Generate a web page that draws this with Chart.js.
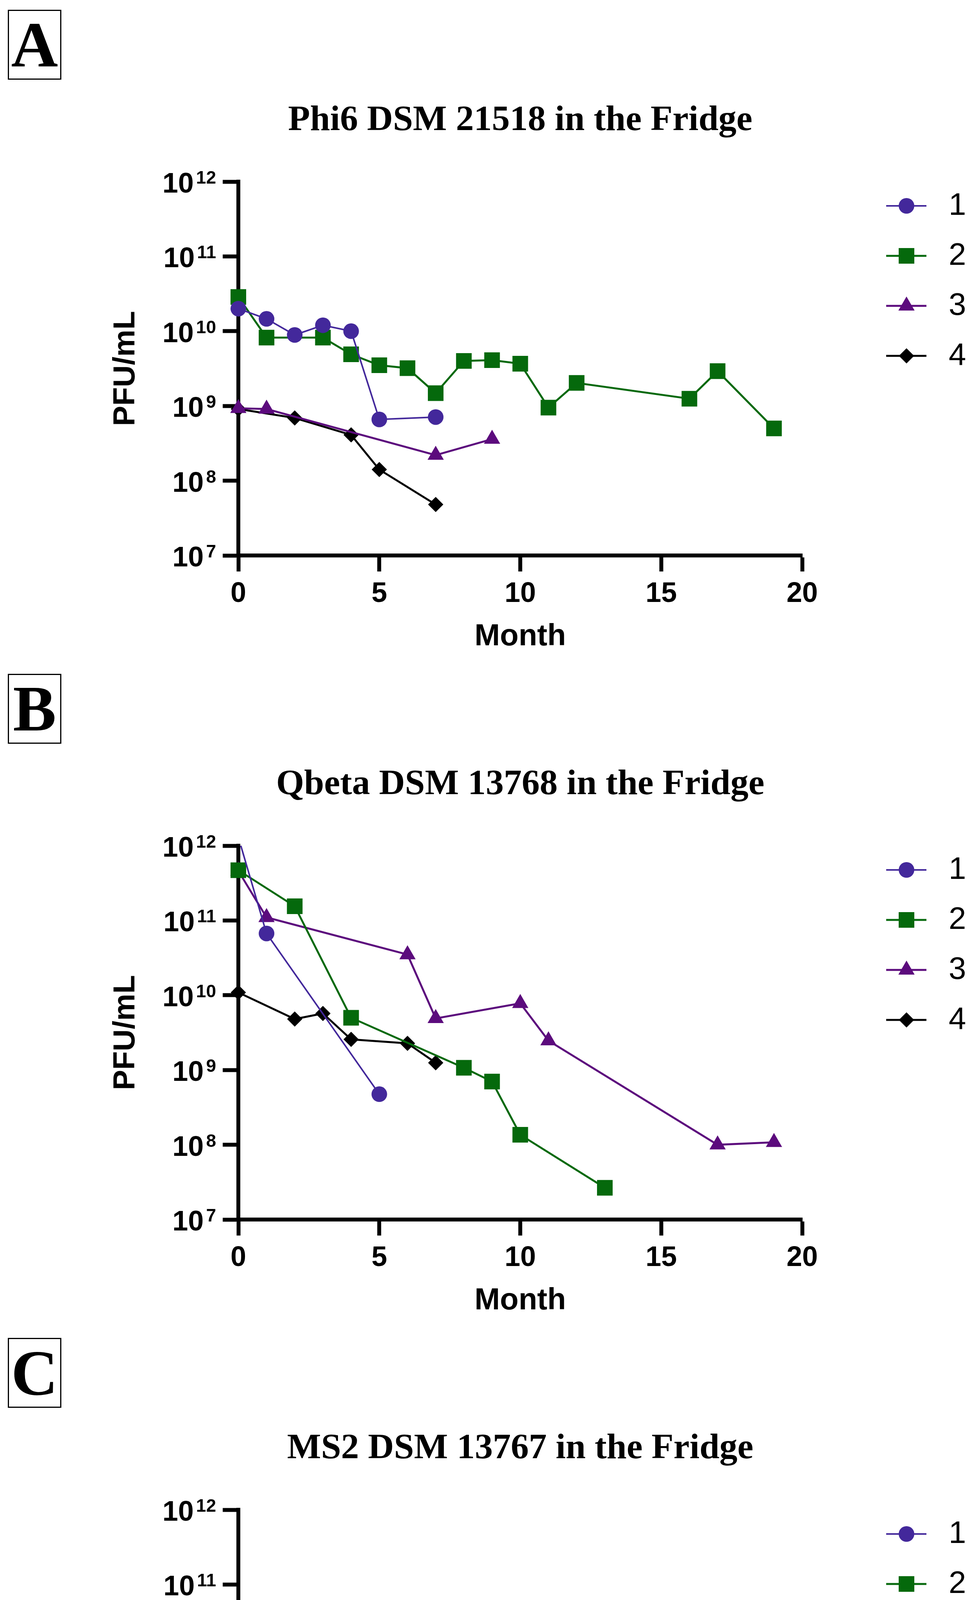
<!DOCTYPE html>
<html>
<head>
<meta charset="utf-8">
<title>PFU/mL in the Fridge</title>
<script src="https://cdn.jsdelivr.net/npm/chart.js"></script>
<style>
  html, body { margin: 0; padding: 0; background: #fff; }
  canvas { display: block; }
</style>
</head>
<body>
<canvas id="panel-a" width="2503" height="1700"></canvas>
<canvas id="panel-b" width="2503" height="1700"></canvas>
<canvas id="panel-c" width="2503" height="1712"></canvas>
<script>
// ---- data ----
const seriesLabels = ['1', '2', '3', '4']
const yTickExps = [7, 8, 9, 10, 11, 12]
const xTicksAB = [0, 5, 10, 15, 20]
const xTicksC = [0, 2, 4, 6, 8]

// A: Phi6 DSM 21518
const monthsA1 = [0, 1, 2, 3, 4, 5, 7]
const pfuA1 = [2.0e10, 1.46e10, 8.9e9, 1.2e10, 1.0e10, 6.6e8, 7.1e8]
const monthsA2 = [0, 1, 3, 4, 5, 6, 7, 8, 9, 10, 11, 12, 16, 17, 19]
const pfuA2 = [2.87e10, 8.2e9, 8.2e9, 4.9e9, 3.5e9, 3.2e9, 1.48e9, 4.0e9, 4.1e9, 3.67e9, 9.5e8, 2.03e9, 1.25e9, 2.92e9, 5.0e8]
const monthsA3 = [0, 1, 7, 9]
const pfuA3 = [9.3e8, 9.1e8, 2.2e8, 3.6e8]
const monthsA4 = [0, 2, 4, 5, 7]
const pfuA4 = [9.1e8, 6.9e8, 4.1e8, 1.41e8, 4.8e7]

// B: Qbeta DSM 13768
const monthsB1 = [0, 1, 5]
const pfuB1 = [1.3e12, 6.7e10, 4.75e8]
const monthsB2 = [0, 2, 4, 8, 9, 10, 13]
const pfuB2 = [4.7e11, 1.55e11, 5.0e9, 1.07e9, 7.0e8, 1.36e8, 2.66e7]
const monthsB3 = [0, 1, 6, 7, 10, 11, 17, 19]
const pfuB3 = [4.6e11, 1.1e11, 3.5e10, 4.9e9, 7.8e9, 2.47e9, 1.0e8, 1.08e8]
const monthsB4 = [0, 2, 3, 4, 6, 7]
const pfuB4 = [1.09e10, 4.8e9, 5.7e9, 2.57e9, 2.27e9, 1.25e9]

// C: MS2 DSM 13767
const monthsC1 = [0, 1, 3, 5, 7]
const pfuC1 = [2.04e9, 2.5e9, 1.93e9, 1.67e9, 5.2e8]
const monthsC2 = [0, 1, 3, 4, 5, 6]
const pfuC2 = [1.2e10, 1.88e10, 5.3e9, 1.37e10, 8.0e9, 9.0e9]

// ---- styles ----
const seriesColors = ['#43289b', '#05690c', '#5c0b7d', '#000000']
const pointStyles = ['circle', 'rect', 'triangle', 'rectRot']
const pointRadii = [20, 28.3, 24, 19.5]
const lineWidths = [4, 5, 5, 5]

const sansFamily = "'Liberation Sans', Arial, sans-serif"
const serifFamily = "'Liberation Serif', 'Times New Roman', serif"
Chart.defaults.font.family = sansFamily
Chart.defaults.color = '#000'

const buildDataset = (months, pfu, k) => ({
    label: seriesLabels[k],
    data: months.map((m, i) => ({ x: m, y: pfu[i] })),
    borderColor: seriesColors[k],
    backgroundColor: seriesColors[k],
    pointBackgroundColor: seriesColors[k],
    borderWidth: lineWidths[k],
    pointStyle: pointStyles[k],
    pointRadius: pointRadii[k],
    pointHoverRadius: pointRadii[k],
    pointBorderWidth: 0,
    tension: 0,
    fill: false,
    clip: { left: 40, right: 40, top: 0, bottom: 40 }
})

// panel letter, title, superscript y labels and the legend
const figureDecor = {
    id: 'figureDecor',
    afterDraw(chart, args, opts) {
        const ctx = chart.ctx
        const area = chart.chartArea
        ctx.save()
        ctx.fillStyle = '#000'
        ctx.strokeStyle = '#000'

        ctx.lineWidth = 3
        ctx.strokeRect(21.5, 26.5, 134, 176)
        ctx.font = `bold 166px ${serifFamily}`
        ctx.textAlign = 'center'
        ctx.textBaseline = 'alphabetic'
        ctx.fillText(opts.letter, 88.5, 170)

        ctx.font = `bold 92px ${serifFamily}`
        ctx.fillText(opts.title, (area.left + area.right) / 2, 333)

        const yScale = chart.scales.y
        ctx.textAlign = 'right'
        yScale.ticks.forEach(tick => {
            const py = yScale.getPixelForValue(tick.value)
            const exp = String(Math.round(Math.log10(tick.value)))
            ctx.font = `bold 46px ${sansFamily}`
            const supW = ctx.measureText(exp).width
            ctx.fillText(exp, 553, py + 5)
            ctx.font = `bold 72px ${sansFamily}`
            ctx.fillText('10', 553 - supW - 6, py + 28)
        })

        chart.data.datasets.forEach((ds, i) => {
            const ly = 527 + i * 128
            ctx.strokeStyle = ds.borderColor
            ctx.lineWidth = ds.borderWidth
            ctx.beginPath()
            ctx.moveTo(2268, ly)
            ctx.lineTo(2371, ly)
            ctx.stroke()
            ctx.fillStyle = ds.backgroundColor
            Chart.helpers.drawPoint(ctx, { pointStyle: ds.pointStyle, radius: ds.pointRadius, rotation: 0, borderWidth: 0 }, 2320, ly)
            ctx.fillStyle = '#000'
            ctx.font = `80px ${sansFamily}`
            ctx.textAlign = 'left'
            ctx.textBaseline = 'middle'
            ctx.fillText(ds.label, 2428, ly + 1)
        })
        ctx.restore()
    }
}

const makePanel = (canvasId, letter, title, xMax, xTicks, series) => {
    const canvas = document.getElementById(canvasId)
    const canvasH = canvas.height
    const axisLine = { display: true, color: '#000', width: 10 }

    new Chart(canvas, {
        type: 'line',
        data: { datasets: series.map((s, k) => buildDataset(s[0], s[1], k)) },
        options: {
            responsive: false,
            animation: false,
            devicePixelRatio: 1,
            layout: { padding: { left: 0, top: 465, right: 450, bottom: 0 } },
            plugins: {
                legend: { display: false },
                title: { display: false },
                tooltip: { enabled: false },
                figureDecor: { letter: letter, title: title }
            },
            scales: {
                x: {
                    type: 'linear',
                    min: 0,
                    max: xMax,
                    afterBuildTicks: (s) => { s.ticks = xTicks.map(v => ({ value: v })) },
                    afterFit: (s) => { s.height = canvasH - 1422 },
                    border: axisLine,
                    grid: { drawOnChartArea: false, drawTicks: true, tickLength: 41, tickWidth: 10, tickColor: '#000', color: '#000' },
                    ticks: { font: { size: 72, weight: 'bold' }, color: '#000', padding: 15, maxRotation: 0 },
                    title: { display: true, text: 'Month', color: '#000', font: { size: 78, weight: 'bold' }, padding: { top: 0, bottom: 23 } }
                },
                y: {
                    type: 'logarithmic',
                    position: 'left',
                    min: 1e7,
                    max: 1e12,
                    afterBuildTicks: (s) => { s.ticks = yTickExps.map(e => ({ value: Math.pow(10, e) })) },
                    afterFit: (s) => { s.width = 610 },
                    border: axisLine,
                    grid: { drawOnChartArea: false, drawTicks: true, tickLength: 40, tickWidth: 10, tickColor: '#000', color: '#000' },
                    ticks: { display: false },
                    title: { display: true, text: 'PFU/mL', color: '#000', font: { size: 78, weight: 'bold' }, padding: { top: 276, bottom: 0 } }
                }
            }
        },
        plugins: [figureDecor]
    })
}

makePanel('panel-a', 'A', 'Phi6 DSM 21518 in the Fridge', 20, xTicksAB,
    [[monthsA1, pfuA1], [monthsA2, pfuA2], [monthsA3, pfuA3], [monthsA4, pfuA4]])
makePanel('panel-b', 'B', 'Qbeta DSM 13768 in the Fridge', 20, xTicksAB,
    [[monthsB1, pfuB1], [monthsB2, pfuB2], [monthsB3, pfuB3], [monthsB4, pfuB4]])
makePanel('panel-c', 'C', 'MS2 DSM 13767 in the Fridge', 8, xTicksC,
    [[monthsC1, pfuC1], [monthsC2, pfuC2]])
</script>
</body>
</html>
